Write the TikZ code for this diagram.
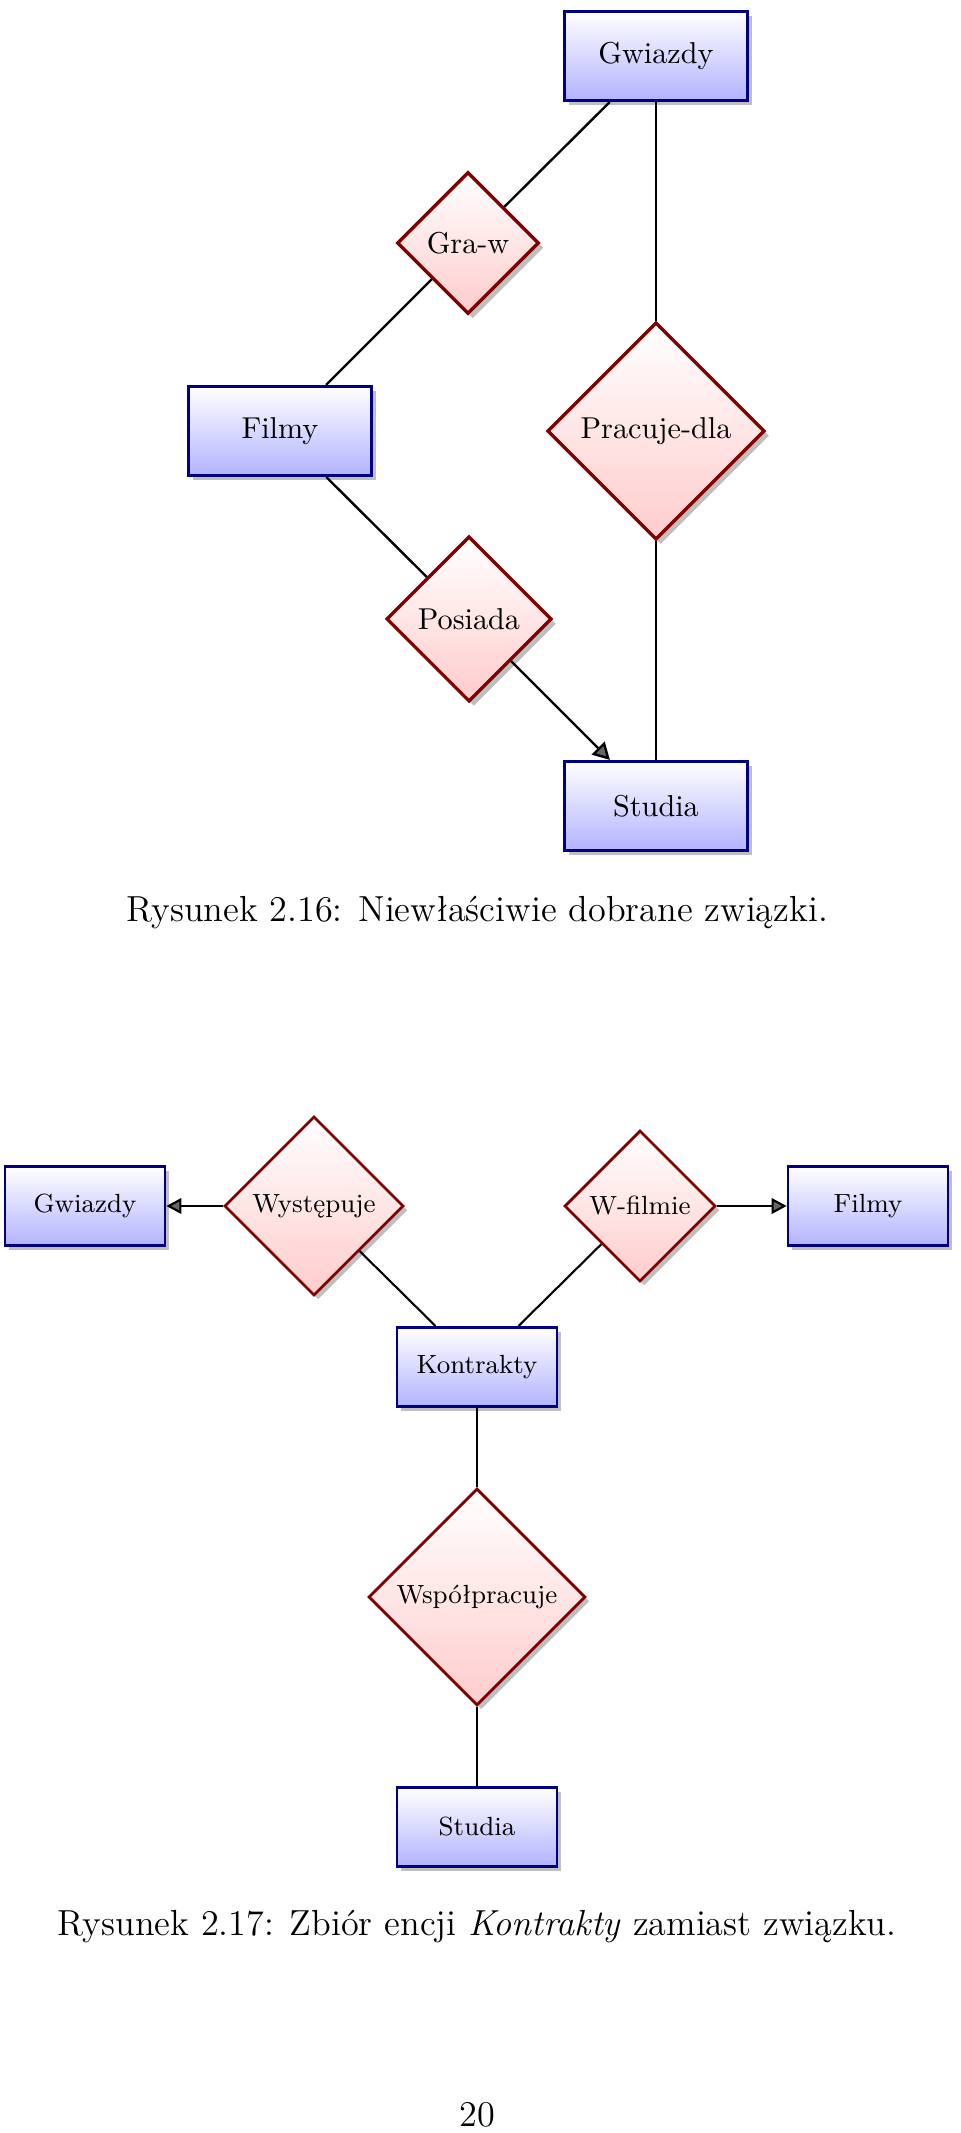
\documentclass[tikz,border=0pt]{standalone}
\usetikzlibrary{shapes.geometric,shadows,arrows.meta}
\begin{document}
\begin{tikzpicture}[x=0.33113pt,y=-0.33113pt,
  shadowA/.style={drop shadow={shadow xshift=1.6pt,shadow yshift=-1.6pt,fill=black!25,opacity=1}},
  shadowB/.style={drop shadow={shadow xshift=1.4pt,shadow yshift=-1.4pt,fill=black!25,opacity=1}},
  entA/.style={rectangle,draw=blue!50!black,line width=1.1pt,top color=white,bottom color=blue!30,
    shadowA,inner sep=0pt,minimum width=60.5pt,minimum height=29.4pt,font=\fontsize{10}{12}\selectfont,text=black},
  relA/.style={diamond,aspect=1,draw=red!50!black,line width=1.1pt,top color=white,bottom color=red!20,
    shadowA,inner sep=0pt,font=\fontsize{10}{12}\selectfont,text=black},
  entB/.style={rectangle,draw=blue!50!black,line width=0.9pt,top color=white,bottom color=blue!30,
    shadowB,inner sep=0pt,minimum width=53pt,minimum height=26.3pt,font=\fontsize{8.7}{10.5}\selectfont,text=black},
  relB/.style={diamond,aspect=1,draw=red!50!black,line width=0.9pt,top color=white,bottom color=red!20,
    shadowB,inner sep=0pt,font=\fontsize{8.7}{10.5}\selectfont,text=black},
  connA/.style={draw=black,line width=0.8pt},
  connB/.style={draw=black,line width=0.7pt},
  tipA/.style={-{Triangle[length=5.6pt,width=6pt,fill=black!60]}},
  tipB/.style={-{Triangle[length=5pt,width=5.2pt,fill=black!60]}},
  capt/.style={anchor=base,font=\fontsize{12}{14.5}\selectfont,inner sep=0pt}
]
\useasboundingbox (0,0) rectangle (960,2133);

% ---------- Figure 2.16 ----------
\node[entA] (gw1) at (656,56) {Gwiazdy};
\node[entA] (fi1) at (280,431) {Filmy};
\node[entA] (st1) at (656,806) {Studia};
\node[relA,minimum size=47pt] (gra) at (468,243) {Gra-w};
\node[relA,minimum size=72pt] (prac) at (656,431) {Pracuje-dla};
\node[relA,minimum size=54.7pt] (pos) at (469,619) {Posiada};

\draw[connA] (gw1) -- (gra);
\draw[connA] (gra) -- (fi1);
\draw[connA] (gw1) -- (prac);
\draw[connA] (prac) -- (st1);
\draw[connA] (fi1) -- (pos);
\draw[connA,tipA] (pos) -- (st1);

\node[capt] (cap1) at (477,921) {Rysunek 2.16: Niewłaściwie dobrane związki.};

% ---------- Figure 2.17 ----------
\node[entB] (gw2) at (85,1206) {Gwiazdy};
\node[entB] (fi2) at (868,1206) {Filmy};
\node[entB] (kon) at (477,1367) {Kontrakty};
\node[entB] (st2) at (477,1827) {Studia};
\node[relB,minimum size=59.3pt] (wys) at (314,1206) {Występuje};
\node[relB,minimum size=50pt] (wf) at (640,1206) {W-filmie};
\node[relB,minimum size=71.8pt] (wsp) at (477,1597) {Współpracuje};

\draw[connB,tipB] (wys) -- (gw2);
\draw[connB,tipB] (wf) -- (fi2);
\draw[connB] (wys) -- (kon);
\draw[connB] (wf) -- (kon);
\draw[connB] (kon) -- (wsp);
\draw[connB] (wsp) -- (st2);

\node[capt] (cap2) at (477,1935) {Rysunek 2.17: Zbiór encji \textit{Kontrakty} zamiast związku.};

\node[capt] (pnum) at (477,2126) {20};
\end{tikzpicture}
\end{document}
